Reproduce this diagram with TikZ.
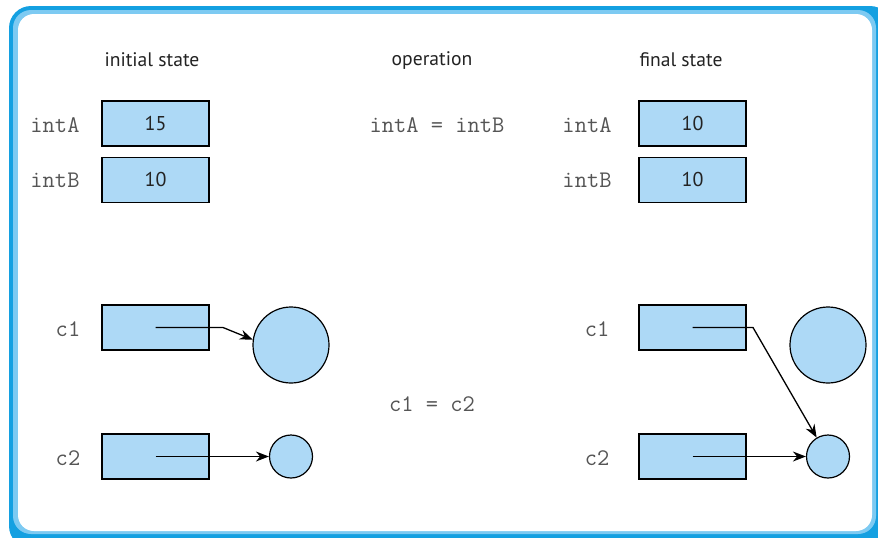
\documentclass[tikz,border=0pt]{standalone}
\usepackage{fontspec}
\setmainfont{PT Sans}
\usetikzlibrary{arrows.meta, positioning}
\definecolor{cellblue}{RGB}{173,217,246}
\definecolor{framedark}{RGB}{20,160,225}
\definecolor{framelight}{RGB}{125,202,242}
\definecolor{labelgray}{RGB}{85,85,85}
\definecolor{textdark}{RGB}{35,35,35}
\tikzset{
  cell/.style={draw=black, fill=cellblue, line width=.6pt, minimum width=53.5pt, minimum height=22.5pt, inner sep=0pt, font=\fontsize{10}{12}\selectfont, text=textdark},
  obj/.style={circle, draw=black, fill=cellblue, line width=.6pt, inner sep=0pt, minimum size=#1},
  obj/.default={38pt},
  var/.style={font=\ttfamily\fontsize{11.9}{14}\selectfont, text=labelgray, inner sep=0pt},
  heading/.style={font=\fontsize{9.8}{12}\selectfont, text=textdark, inner sep=0pt},
  ptr/.style={-{Stealth[length=6.5pt, width=5pt]}, line width=.65pt},
}
\begin{document}
\begin{tikzpicture}[x=.5pt, y=-.5pt]
  \useasboundingbox (0,0) rectangle (878,537);
  \clip (0,0) rectangle (878,537);
  % frame
  \fill[framedark, rounded corners=11pt] (9,6) rectangle (892,548);
  \fill[framelight, rounded corners=9pt] (13,10) rectangle (876,534);
  \fill[white, rounded corners=8pt] (18,14) rectangle (872,531);

  % headings
  \node[heading] (init) at (152,60) {initial state};
  \node[heading] (oper) at (432,61) {operation};
  \node[heading] (fin) at (681,60) {final state};

  % primitive variables, before
  \node[cell] (intA1) at (155.5,123.5) {15};
  \node[cell, below=5pt of intA1] (intB1) {10};
  \node[var] at (55,125) {intA};
  \node[var] at (55,180) {intB};

  \node[var] (assign1) at (437,125) {intA = intB};

  % primitive variables, after
  \node[cell] (intA2) at (692.5,123.5) {10};
  \node[cell, below=5pt of intA2] (intB2) {10};
  \node[var] at (587,125) {intA};
  \node[var] at (587,180) {intB};

  % references, before
  \node[cell] (c1L) at (155.5,327.5) {};
  \node[cell] (c2L) at (155.5,456.5) {};
  \node[var] at (68,329) {c1};
  \node[var] at (68,458) {c2};
  \node[obj] (bigL) at (291,345) {};
  \node[obj=21.5pt] (smallL) at (291,456.5) {};
  \coordinate (bendL) at (223,327.5);
  \draw[ptr] (c1L.center) -- (bendL) -- (bigL.172);
  \draw[ptr] (c2L.center) -- (smallL);

  \node[var] (assign2) at (432,404) {c1 = c2};

  % references, after
  \node[cell] (c1R) at (692.5,327.5) {};
  \node[cell] (c2R) at (692.5,456.5) {};
  \node[var] at (597,329) {c1};
  \node[var] at (597,458) {c2};
  \node[obj] (bigR) at (828,345) {};
  \node[obj=21.5pt] (smallR) at (828,456.5) {};
  \coordinate (bendR) at (753,327.5);
  \draw[ptr] (c1R.center) -- (bendR) -- (smallR.121);
  \draw[ptr] (c2R.center) -- (smallR);
\end{tikzpicture}
\end{document}
